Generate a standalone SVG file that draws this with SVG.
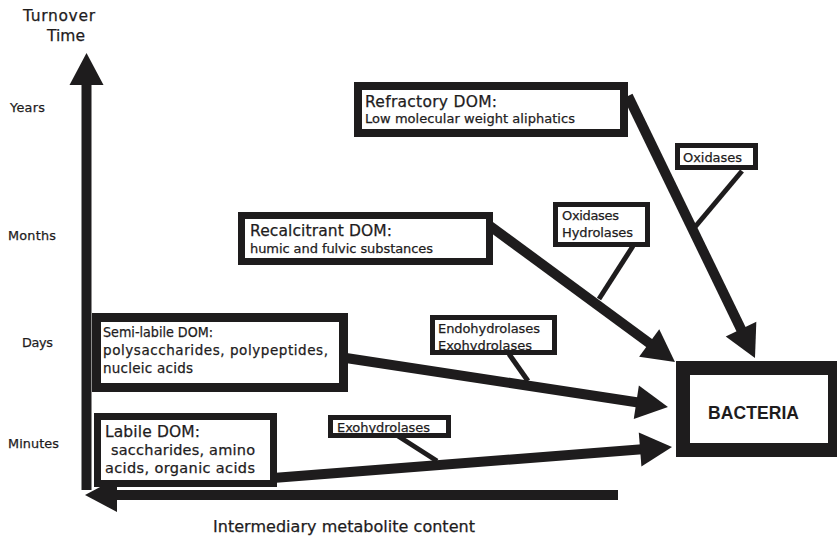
<svg xmlns="http://www.w3.org/2000/svg" width="837" height="538" viewBox="0 0 837 538">
  <style>
    .box { fill: #fff; stroke: #1e1c1d; }
    .lbl { font-family: "DejaVu Sans", Verdana, sans-serif; fill: #1e1c1d; stroke: #1e1c1d; stroke-width: 0.25; }
    .head { font-size: 15.5px; }
    .sub { font-size: 13px; }
    .enz { font-size: 13px; }
    .tick { font-size: 12.8px; }
    .flow { fill: none; stroke: #1e1c1d; stroke-width: 10; marker-end: url(#arrow); }
    .tie { fill: none; stroke: #1e1c1d; stroke-width: 5; }
  </style>
  <defs>
    <marker id="arrow" markerUnits="userSpaceOnUse" markerWidth="34" markerHeight="36" refX="2" refY="17" orient="auto" overflow="visible">
      <path d="M0,0 L32,17 L0,34 Z" fill="#1e1c1d"/>
    </marker>
  </defs>

  <rect width="837" height="538" fill="#fff"/>

  <!-- axes and their labels -->
  <g id="axes">
    <path class="flow" d="M86.5,490 L86.5,83"/>
    <path class="flow" d="M618,495 L115,495"/>
    <text class="lbl" x="23" y="21" font-size="15.5" textLength="72" lengthAdjust="spacing">Turnover</text>
    <text class="lbl" x="47" y="41" font-size="15.5" textLength="38" lengthAdjust="spacing">Time</text>
    <text class="lbl tick" x="10" y="112" textLength="35" lengthAdjust="spacing">Years</text>
    <text class="lbl tick" x="8" y="240" textLength="48" lengthAdjust="spacing">Months</text>
    <text class="lbl tick" x="22" y="347" textLength="31" lengthAdjust="spacing">Days</text>
    <text class="lbl tick" x="8" y="448" textLength="51" lengthAdjust="spacing">Minutes</text>
    <text class="lbl" x="213" y="532" font-size="16" textLength="262" lengthAdjust="spacing">Intermediary metabolite content</text>
  </g>

  <!-- flows into the bacteria and enzyme ties -->
  <g id="connectors">
    <path class="flow" d="M273,478 L642.1,449.3"/>
    <path class="flow" d="M346,358 L638.3,402.5"/>
    <path class="flow" d="M490,226 L650.8,344.2"/>
    <path class="flow" d="M628,96 L741.9,331"/>
    <path class="tie" d="M742,171 L695,227"/>
    <path class="tie" d="M633,246 L599,299"/>
    <path class="tie" d="M509,354 L528,381"/>
    <path class="tie" d="M398,436 L437,461"/>
  </g>

  <g id="refractory">
    <rect class="box" x="358" y="86" width="266" height="47" stroke-width="8"/>
    <text class="lbl head" x="365" y="107" textLength="132" lengthAdjust="spacing">Refractory DOM:</text>
    <text class="lbl sub" x="365" y="123" textLength="210" lengthAdjust="spacing">Low molecular weight aliphatics</text>
  </g>

  <g id="recalcitrant">
    <rect class="box" x="241.5" y="215.5" width="248" height="46" stroke-width="7"/>
    <text class="lbl head" x="250" y="236" textLength="142" lengthAdjust="spacing">Recalcitrant DOM:</text>
    <text class="lbl sub" x="250" y="253" textLength="183" lengthAdjust="spacing">humic and fulvic substances</text>
  </g>

  <g id="semi-labile">
    <rect class="box" x="96.5" y="317.5" width="247" height="70" stroke-width="9"/>
    <text class="lbl" x="103" y="337" font-size="14" textLength="110" lengthAdjust="spacingAndGlyphs">Semi-labile DOM:</text>
    <text class="lbl" x="103" y="355" font-size="13.5" textLength="225" lengthAdjust="spacing">polysaccharides, polypeptides,</text>
    <text class="lbl" x="103" y="373" font-size="13.5" textLength="90" lengthAdjust="spacing">nucleic acids</text>
  </g>

  <g id="labile">
    <rect class="box" x="97.5" y="416.5" width="176" height="67" stroke-width="7"/>
    <text class="lbl head" x="105" y="437" textLength="95" lengthAdjust="spacing">Labile DOM:</text>
    <text class="lbl" x="111" y="455" font-size="14.5" textLength="144" lengthAdjust="spacing">saccharides, amino</text>
    <text class="lbl" x="105" y="473" font-size="14.5" textLength="150" lengthAdjust="spacing">acids, organic acids</text>
  </g>

  <g id="enzyme-oxidases">
    <rect class="box" x="677.5" y="145.5" width="78" height="22" stroke-width="5"/>
    <text class="lbl enz" x="683" y="162" textLength="59" lengthAdjust="spacing">Oxidases</text>
  </g>

  <g id="enzyme-oxidases-hydrolases">
    <rect class="box" x="555.5" y="204.5" width="92" height="40" stroke-width="5"/>
    <text class="lbl enz" x="562" y="220" textLength="57" lengthAdjust="spacing">Oxidases</text>
    <text class="lbl enz" x="562" y="237" textLength="71" lengthAdjust="spacing">Hydrolases</text>
  </g>

  <g id="enzyme-endo-exo">
    <rect class="box" x="432.5" y="317.5" width="122" height="35" stroke-width="5"/>
    <text class="lbl enz" x="438" y="333" textLength="102" lengthAdjust="spacing">Endohydrolases</text>
    <text class="lbl enz" x="438" y="350" textLength="94" lengthAdjust="spacing">Exohydrolases</text>
  </g>

  <g id="enzyme-exo">
    <rect class="box" x="330.5" y="417.5" width="118" height="18" stroke-width="5"/>
    <text class="lbl enz" x="337" y="432" textLength="93" lengthAdjust="spacing">Exohydrolases</text>
  </g>

  <g id="bacteria">
    <rect x="676" y="361" width="161" height="96" fill="#1e1c1d"/>
    <rect x="690" y="375" width="138" height="68" fill="#fff"/>
    <text x="708" y="419" font-family="'Liberation Sans', Arial, sans-serif" font-size="17.5" font-weight="bold" fill="#1e1c1d" textLength="91" lengthAdjust="spacing">BACTERIA</text>
  </g>
</svg>
